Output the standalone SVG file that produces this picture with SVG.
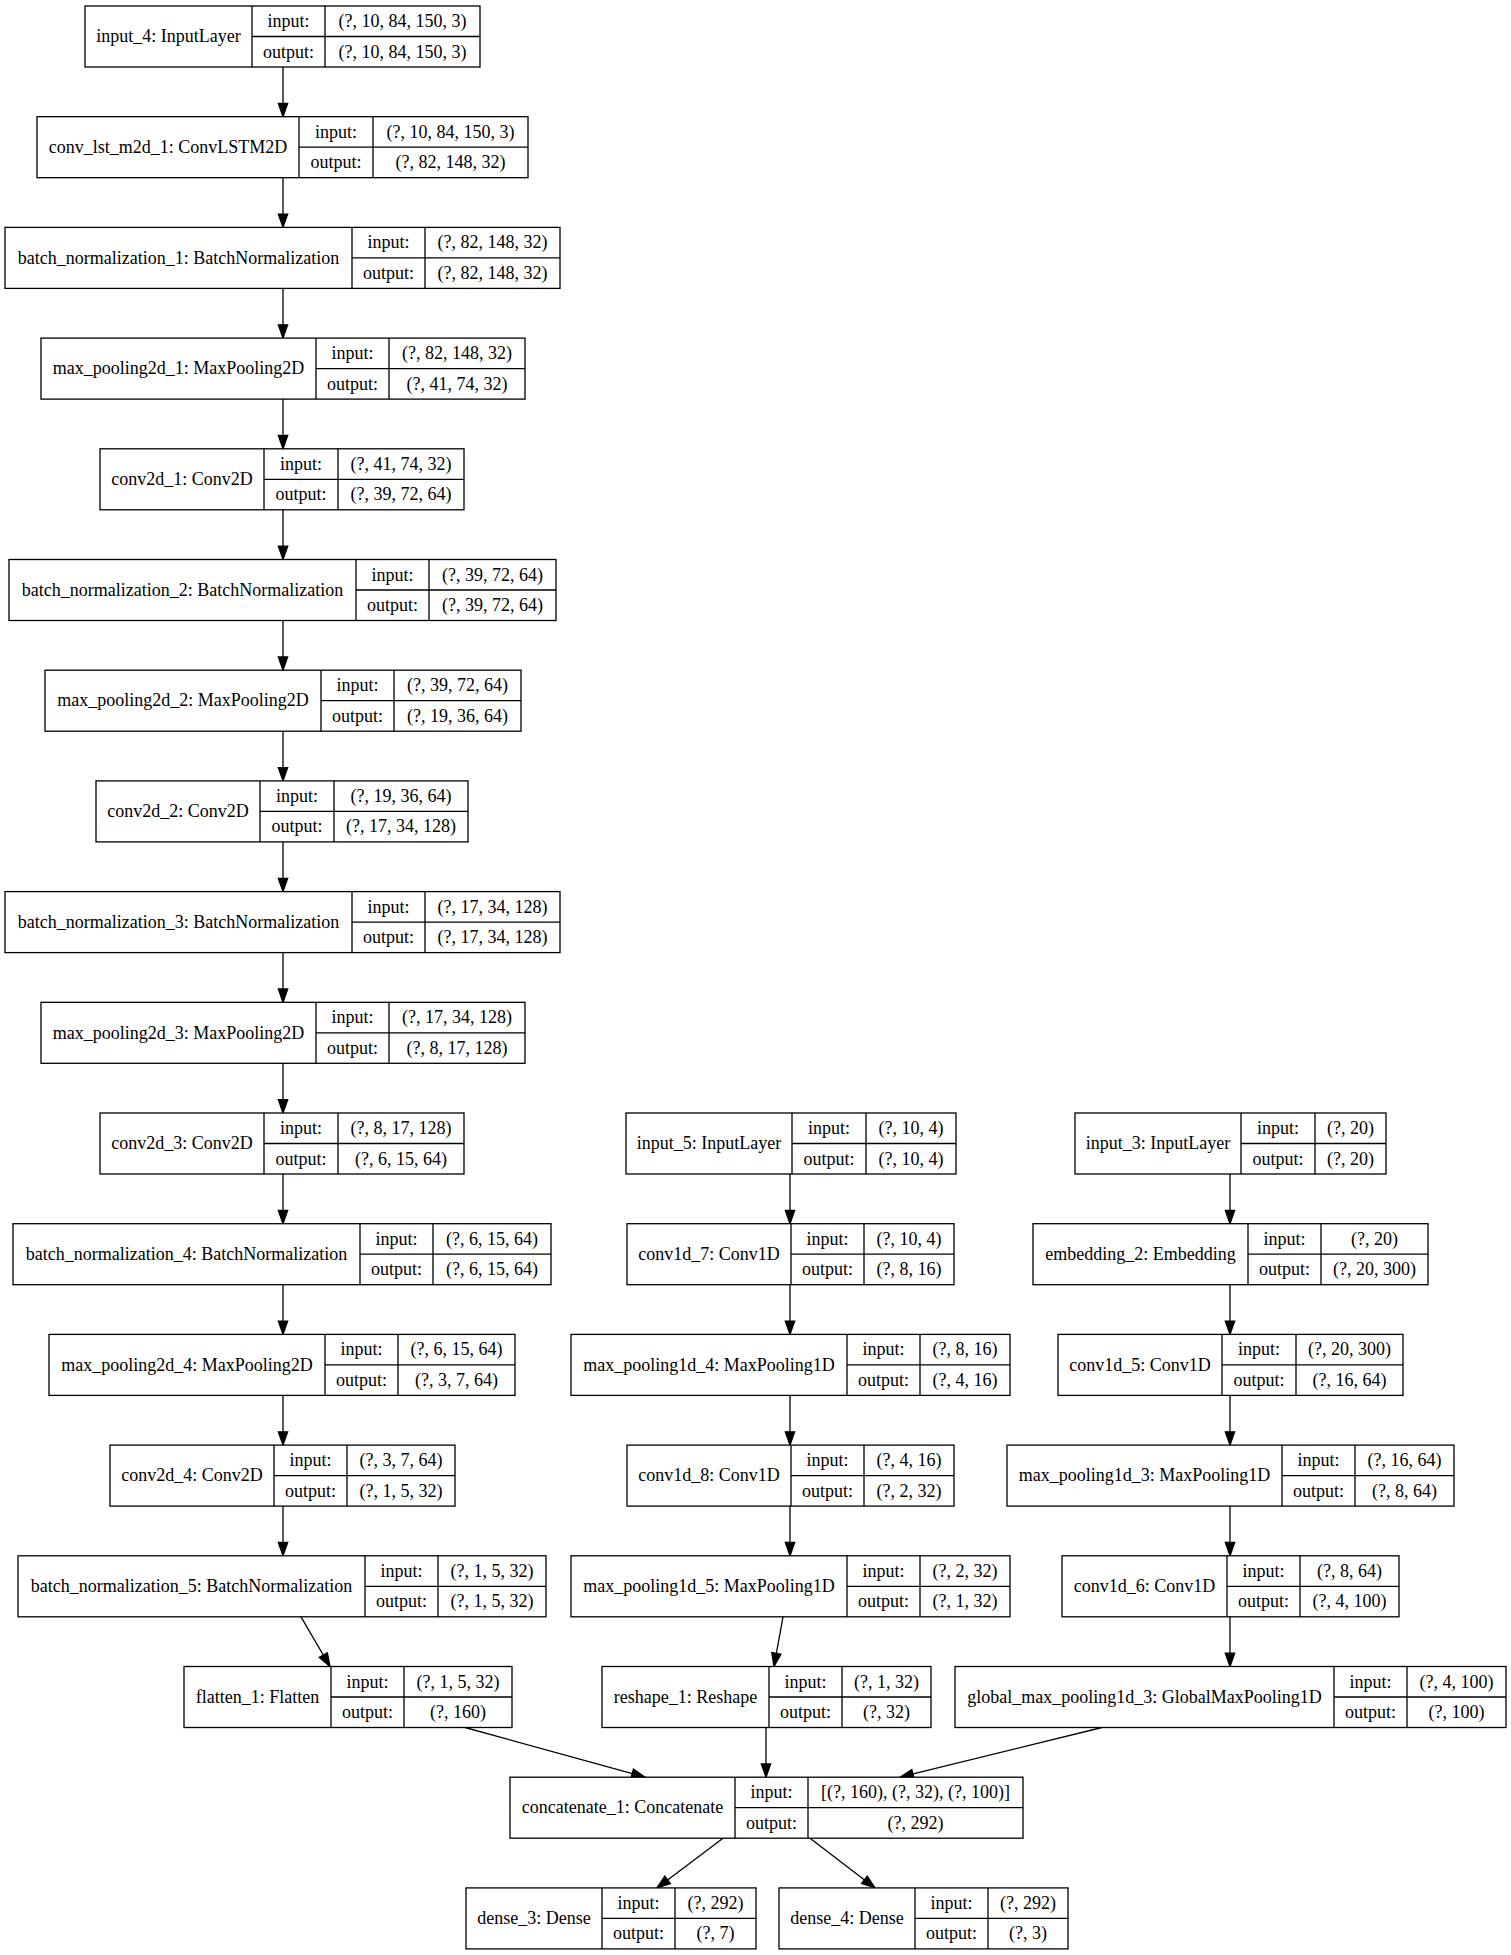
<svg xmlns="http://www.w3.org/2000/svg" width="1511" height="1955" viewBox="0 0 1511 1955">
<style>
.b{fill:#fff;stroke:#000;stroke-width:1.3}
.s{fill:none;stroke:#000;stroke-width:1.3}
text{font-family:"Liberation Serif","Times New Roman",serif;font-size:18px;text-anchor:middle;fill:#000}
.e{fill:none;stroke:#000;stroke-width:1.3;marker-end:url(#a)}
</style>
<defs>
<marker id="a" markerUnits="userSpaceOnUse" orient="auto" refX="13.3" refY="0" markerWidth="20" markerHeight="20" overflow="visible">
<path d="M0,-4.67L13.3,0L0,4.67Z" fill="#000" stroke="#000" stroke-width="1.3"/>
</marker>
</defs>
<rect width="1511" height="1955" fill="#fff"/>
<g id="edges">
<path class="e" d="M283,67V116.7"/>
<path class="e" d="M283,177.7V227.4"/>
<path class="e" d="M283,288.4V338.1"/>
<path class="e" d="M283,399.1V448.8"/>
<path class="e" d="M283,509.8V559.5"/>
<path class="e" d="M283,620.5V670.2"/>
<path class="e" d="M283,731.2V780.9"/>
<path class="e" d="M283,841.9V891.6"/>
<path class="e" d="M283,952.6V1002.3"/>
<path class="e" d="M283,1063.3V1113"/>
<path class="e" d="M283,1174V1223.7"/>
<path class="e" d="M283,1284.7V1334.4"/>
<path class="e" d="M283,1395.4V1445.1"/>
<path class="e" d="M283,1506.1V1555.8"/>
<path class="e" d="M301,1616.8L330,1666.5"/>
<path class="e" d="M790,1174V1223.7"/>
<path class="e" d="M790,1284.7V1334.4"/>
<path class="e" d="M790,1395.4V1445.1"/>
<path class="e" d="M790,1506.1V1555.8"/>
<path class="e" d="M783,1616.8L774,1666.5"/>
<path class="e" d="M766,1727.5V1777.2"/>
<path class="e" d="M1230,1174V1223.7"/>
<path class="e" d="M1230,1284.7V1334.4"/>
<path class="e" d="M1230,1395.4V1445.1"/>
<path class="e" d="M1230,1506.1V1555.8"/>
<path class="e" d="M1230,1616.8V1666.5"/>
<path class="e" d="M465,1727.5L645,1777.2"/>
<path class="e" d="M1102,1727.5L900,1777.2"/>
<path class="e" d="M723,1838.2L657,1887.9"/>
<path class="e" d="M810,1838.2L875,1887.9"/>
</g>

<g id="input_4" transform="translate(0,6)">
<rect class="b" x="85" y="0" width="395" height="61"/>
<path class="s" d="M252,0V61M325,0V61M252,30.5H480"/>
<text x="168.5" y="36.3">input_4: InputLayer</text>
<text x="288.5" y="21">input:</text><text x="288.5" y="51.5">output:</text>
<text x="402.5" y="21">(?, 10, 84, 150, 3)</text><text x="402.5" y="51.5">(?, 10, 84, 150, 3)</text>
</g>

<g id="conv_lst_m2d_1" transform="translate(0,116.7)">
<rect class="b" x="37" y="0" width="491" height="61"/>
<path class="s" d="M299,0V61M373,0V61M299,30.5H528"/>
<text x="168" y="36.3">conv_lst_m2d_1: ConvLSTM2D</text>
<text x="336" y="21">input:</text><text x="336" y="51.5">output:</text>
<text x="450.5" y="21">(?, 10, 84, 150, 3)</text><text x="450.5" y="51.5">(?, 82, 148, 32)</text>
</g>

<g id="batch_normalization_1" transform="translate(0,227.4)">
<rect class="b" x="5" y="0" width="555" height="61"/>
<path class="s" d="M352,0V61M425,0V61M352,30.5H560"/>
<text x="178.5" y="36.3">batch_normalization_1: BatchNormalization</text>
<text x="388.5" y="21">input:</text><text x="388.5" y="51.5">output:</text>
<text x="492.5" y="21">(?, 82, 148, 32)</text><text x="492.5" y="51.5">(?, 82, 148, 32)</text>
</g>

<g id="max_pooling2d_1" transform="translate(0,338.1)">
<rect class="b" x="41" y="0" width="484" height="61"/>
<path class="s" d="M316,0V61M389,0V61M316,30.5H525"/>
<text x="178.5" y="36.3">max_pooling2d_1: MaxPooling2D</text>
<text x="352.5" y="21">input:</text><text x="352.5" y="51.5">output:</text>
<text x="457" y="21">(?, 82, 148, 32)</text><text x="457" y="51.5">(?, 41, 74, 32)</text>
</g>

<g id="conv2d_1" transform="translate(0,448.8)">
<rect class="b" x="100" y="0" width="364" height="61"/>
<path class="s" d="M264,0V61M338,0V61M264,30.5H464"/>
<text x="182" y="36.3">conv2d_1: Conv2D</text>
<text x="301" y="21">input:</text><text x="301" y="51.5">output:</text>
<text x="401" y="21">(?, 41, 74, 32)</text><text x="401" y="51.5">(?, 39, 72, 64)</text>
</g>

<g id="batch_normalization_2" transform="translate(0,559.5)">
<rect class="b" x="9" y="0" width="547" height="61"/>
<path class="s" d="M356,0V61M429,0V61M356,30.5H556"/>
<text x="182.5" y="36.3">batch_normalization_2: BatchNormalization</text>
<text x="392.5" y="21">input:</text><text x="392.5" y="51.5">output:</text>
<text x="492.5" y="21">(?, 39, 72, 64)</text><text x="492.5" y="51.5">(?, 39, 72, 64)</text>
</g>

<g id="max_pooling2d_2" transform="translate(0,670.2)">
<rect class="b" x="45" y="0" width="476" height="61"/>
<path class="s" d="M321,0V61M394,0V61M321,30.5H521"/>
<text x="183" y="36.3">max_pooling2d_2: MaxPooling2D</text>
<text x="357.5" y="21">input:</text><text x="357.5" y="51.5">output:</text>
<text x="457.5" y="21">(?, 39, 72, 64)</text><text x="457.5" y="51.5">(?, 19, 36, 64)</text>
</g>

<g id="conv2d_2" transform="translate(0,780.9)">
<rect class="b" x="96" y="0" width="372" height="61"/>
<path class="s" d="M260,0V61M334,0V61M260,30.5H468"/>
<text x="178" y="36.3">conv2d_2: Conv2D</text>
<text x="297" y="21">input:</text><text x="297" y="51.5">output:</text>
<text x="401" y="21">(?, 19, 36, 64)</text><text x="401" y="51.5">(?, 17, 34, 128)</text>
</g>

<g id="batch_normalization_3" transform="translate(0,891.6)">
<rect class="b" x="5" y="0" width="555" height="61"/>
<path class="s" d="M352,0V61M425,0V61M352,30.5H560"/>
<text x="178.5" y="36.3">batch_normalization_3: BatchNormalization</text>
<text x="388.5" y="21">input:</text><text x="388.5" y="51.5">output:</text>
<text x="492.5" y="21">(?, 17, 34, 128)</text><text x="492.5" y="51.5">(?, 17, 34, 128)</text>
</g>

<g id="max_pooling2d_3" transform="translate(0,1002.3)">
<rect class="b" x="41" y="0" width="484" height="61"/>
<path class="s" d="M316,0V61M389,0V61M316,30.5H525"/>
<text x="178.5" y="36.3">max_pooling2d_3: MaxPooling2D</text>
<text x="352.5" y="21">input:</text><text x="352.5" y="51.5">output:</text>
<text x="457" y="21">(?, 17, 34, 128)</text><text x="457" y="51.5">(?, 8, 17, 128)</text>
</g>

<g id="conv2d_3" transform="translate(0,1113)">
<rect class="b" x="100" y="0" width="364" height="61"/>
<path class="s" d="M264,0V61M338,0V61M264,30.5H464"/>
<text x="182" y="36.3">conv2d_3: Conv2D</text>
<text x="301" y="21">input:</text><text x="301" y="51.5">output:</text>
<text x="401" y="21">(?, 8, 17, 128)</text><text x="401" y="51.5">(?, 6, 15, 64)</text>
</g>

<g id="batch_normalization_4" transform="translate(0,1223.7)">
<rect class="b" x="13" y="0" width="538" height="61"/>
<path class="s" d="M360,0V61M433,0V61M360,30.5H551"/>
<text x="186.5" y="36.3">batch_normalization_4: BatchNormalization</text>
<text x="396.5" y="21">input:</text><text x="396.5" y="51.5">output:</text>
<text x="492" y="21">(?, 6, 15, 64)</text><text x="492" y="51.5">(?, 6, 15, 64)</text>
</g>

<g id="max_pooling2d_4" transform="translate(0,1334.4)">
<rect class="b" x="49" y="0" width="466" height="61"/>
<path class="s" d="M325,0V61M398,0V61M325,30.5H515"/>
<text x="187" y="36.3">max_pooling2d_4: MaxPooling2D</text>
<text x="361.5" y="21">input:</text><text x="361.5" y="51.5">output:</text>
<text x="456.5" y="21">(?, 6, 15, 64)</text><text x="456.5" y="51.5">(?, 3, 7, 64)</text>
</g>

<g id="conv2d_4" transform="translate(0,1445.1)">
<rect class="b" x="110" y="0" width="345" height="61"/>
<path class="s" d="M274,0V61M347,0V61M274,30.5H455"/>
<text x="192" y="36.3">conv2d_4: Conv2D</text>
<text x="310.5" y="21">input:</text><text x="310.5" y="51.5">output:</text>
<text x="401" y="21">(?, 3, 7, 64)</text><text x="401" y="51.5">(?, 1, 5, 32)</text>
</g>

<g id="batch_normalization_5" transform="translate(0,1555.8)">
<rect class="b" x="18" y="0" width="528" height="61"/>
<path class="s" d="M365,0V61M438,0V61M365,30.5H546"/>
<text x="191.5" y="36.3">batch_normalization_5: BatchNormalization</text>
<text x="401.5" y="21">input:</text><text x="401.5" y="51.5">output:</text>
<text x="492" y="21">(?, 1, 5, 32)</text><text x="492" y="51.5">(?, 1, 5, 32)</text>
</g>

<g id="flatten_1" transform="translate(0,1666.5)">
<rect class="b" x="184" y="0" width="328" height="61"/>
<path class="s" d="M331,0V61M404,0V61M331,30.5H512"/>
<text x="257.5" y="36.3">flatten_1: Flatten</text>
<text x="367.5" y="21">input:</text><text x="367.5" y="51.5">output:</text>
<text x="458" y="21">(?, 1, 5, 32)</text><text x="458" y="51.5">(?, 160)</text>
</g>

<g id="input_5" transform="translate(0,1113)">
<rect class="b" x="626" y="0" width="330" height="61"/>
<path class="s" d="M792,0V61M866,0V61M792,30.5H956"/>
<text x="709" y="36.3">input_5: InputLayer</text>
<text x="829" y="21">input:</text><text x="829" y="51.5">output:</text>
<text x="911" y="21">(?, 10, 4)</text><text x="911" y="51.5">(?, 10, 4)</text>
</g>

<g id="conv1d_7" transform="translate(0,1223.7)">
<rect class="b" x="627" y="0" width="327" height="61"/>
<path class="s" d="M791,0V61M864,0V61M791,30.5H954"/>
<text x="709" y="36.3">conv1d_7: Conv1D</text>
<text x="827.5" y="21">input:</text><text x="827.5" y="51.5">output:</text>
<text x="909" y="21">(?, 10, 4)</text><text x="909" y="51.5">(?, 8, 16)</text>
</g>

<g id="max_pooling1d_4" transform="translate(0,1334.4)">
<rect class="b" x="571" y="0" width="439" height="61"/>
<path class="s" d="M847,0V61M920,0V61M847,30.5H1010"/>
<text x="709" y="36.3">max_pooling1d_4: MaxPooling1D</text>
<text x="883.5" y="21">input:</text><text x="883.5" y="51.5">output:</text>
<text x="965" y="21">(?, 8, 16)</text><text x="965" y="51.5">(?, 4, 16)</text>
</g>

<g id="conv1d_8" transform="translate(0,1445.1)">
<rect class="b" x="627" y="0" width="327" height="61"/>
<path class="s" d="M791,0V61M864,0V61M791,30.5H954"/>
<text x="709" y="36.3">conv1d_8: Conv1D</text>
<text x="827.5" y="21">input:</text><text x="827.5" y="51.5">output:</text>
<text x="909" y="21">(?, 4, 16)</text><text x="909" y="51.5">(?, 2, 32)</text>
</g>

<g id="max_pooling1d_5" transform="translate(0,1555.8)">
<rect class="b" x="571" y="0" width="439" height="61"/>
<path class="s" d="M847,0V61M920,0V61M847,30.5H1010"/>
<text x="709" y="36.3">max_pooling1d_5: MaxPooling1D</text>
<text x="883.5" y="21">input:</text><text x="883.5" y="51.5">output:</text>
<text x="965" y="21">(?, 2, 32)</text><text x="965" y="51.5">(?, 1, 32)</text>
</g>

<g id="reshape_1" transform="translate(0,1666.5)">
<rect class="b" x="602" y="0" width="329" height="61"/>
<path class="s" d="M769,0V61M842,0V61M769,30.5H931"/>
<text x="685.5" y="36.3">reshape_1: Reshape</text>
<text x="805.5" y="21">input:</text><text x="805.5" y="51.5">output:</text>
<text x="886.5" y="21">(?, 1, 32)</text><text x="886.5" y="51.5">(?, 32)</text>
</g>

<g id="concatenate_1" transform="translate(0,1777.2)">
<rect class="b" x="510" y="0" width="513" height="61"/>
<path class="s" d="M735,0V61M808,0V61M735,30.5H1023"/>
<text x="622.5" y="36.3">concatenate_1: Concatenate</text>
<text x="771.5" y="21">input:</text><text x="771.5" y="51.5">output:</text>
<text x="915.5" y="21">[(?, 160), (?, 32), (?, 100)]</text><text x="915.5" y="51.5">(?, 292)</text>
</g>

<g id="dense_3" transform="translate(0,1887.9)">
<rect class="b" x="466" y="0" width="290" height="61"/>
<path class="s" d="M602,0V61M675,0V61M602,30.5H756"/>
<text x="534" y="36.3">dense_3: Dense</text>
<text x="638.5" y="21">input:</text><text x="638.5" y="51.5">output:</text>
<text x="715.5" y="21">(?, 292)</text><text x="715.5" y="51.5">(?, 7)</text>
</g>

<g id="dense_4" transform="translate(0,1887.9)">
<rect class="b" x="779" y="0" width="289" height="61"/>
<path class="s" d="M915,0V61M988,0V61M915,30.5H1068"/>
<text x="847" y="36.3">dense_4: Dense</text>
<text x="951.5" y="21">input:</text><text x="951.5" y="51.5">output:</text>
<text x="1028" y="21">(?, 292)</text><text x="1028" y="51.5">(?, 3)</text>
</g>

<g id="input_3" transform="translate(0,1113)">
<rect class="b" x="1075" y="0" width="311" height="61"/>
<path class="s" d="M1241,0V61M1315,0V61M1241,30.5H1386"/>
<text x="1158" y="36.3">input_3: InputLayer</text>
<text x="1278" y="21">input:</text><text x="1278" y="51.5">output:</text>
<text x="1350.5" y="21">(?, 20)</text><text x="1350.5" y="51.5">(?, 20)</text>
</g>

<g id="embedding_2" transform="translate(0,1223.7)">
<rect class="b" x="1033" y="0" width="395" height="61"/>
<path class="s" d="M1248,0V61M1321,0V61M1248,30.5H1428"/>
<text x="1140.5" y="36.3">embedding_2: Embedding</text>
<text x="1284.5" y="21">input:</text><text x="1284.5" y="51.5">output:</text>
<text x="1374.5" y="21">(?, 20)</text><text x="1374.5" y="51.5">(?, 20, 300)</text>
</g>

<g id="conv1d_5" transform="translate(0,1334.4)">
<rect class="b" x="1058" y="0" width="345" height="61"/>
<path class="s" d="M1222,0V61M1296,0V61M1222,30.5H1403"/>
<text x="1140" y="36.3">conv1d_5: Conv1D</text>
<text x="1259" y="21">input:</text><text x="1259" y="51.5">output:</text>
<text x="1349.5" y="21">(?, 20, 300)</text><text x="1349.5" y="51.5">(?, 16, 64)</text>
</g>

<g id="max_pooling1d_3" transform="translate(0,1445.1)">
<rect class="b" x="1007" y="0" width="447" height="61"/>
<path class="s" d="M1282,0V61M1355,0V61M1282,30.5H1454"/>
<text x="1144.5" y="36.3">max_pooling1d_3: MaxPooling1D</text>
<text x="1318.5" y="21">input:</text><text x="1318.5" y="51.5">output:</text>
<text x="1404.5" y="21">(?, 16, 64)</text><text x="1404.5" y="51.5">(?, 8, 64)</text>
</g>

<g id="conv1d_6" transform="translate(0,1555.8)">
<rect class="b" x="1062" y="0" width="337" height="61"/>
<path class="s" d="M1227,0V61M1300,0V61M1227,30.5H1399"/>
<text x="1144.5" y="36.3">conv1d_6: Conv1D</text>
<text x="1263.5" y="21">input:</text><text x="1263.5" y="51.5">output:</text>
<text x="1349.5" y="21">(?, 8, 64)</text><text x="1349.5" y="51.5">(?, 4, 100)</text>
</g>

<g id="global_max_pooling1d_3" transform="translate(0,1666.5)">
<rect class="b" x="955" y="0" width="551" height="61"/>
<path class="s" d="M1334,0V61M1407,0V61M1334,30.5H1506"/>
<text x="1144.5" y="36.3">global_max_pooling1d_3: GlobalMaxPooling1D</text>
<text x="1370.5" y="21">input:</text><text x="1370.5" y="51.5">output:</text>
<text x="1456.5" y="21">(?, 4, 100)</text><text x="1456.5" y="51.5">(?, 100)</text>
</g>
</svg>
